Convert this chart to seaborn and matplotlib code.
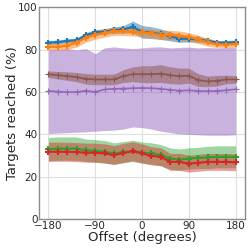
import numpy as np
import pandas as pd
import matplotlib
matplotlib.use("Agg")
import matplotlib.pyplot as plt
import seaborn as sns

offsets = list(range(-180, 181, 18))

blue = [83.3, 83.5, 84.1, 84.4, 86.8, 88.1, 88.5, 89.2, 89.5, 90.7, 88.4, 88.0, 87.3, 86.3, 85.2, 85.1, 84.8, 84.1, 83.3, 83.3, 83.5]
blue_err = [1.0, 1.0, 1.0, 1.0, 1.2, 1.3, 1.3, 1.5, 1.8, 2.8, 3.0, 2.8, 2.5, 2.2, 1.8, 1.5, 1.3, 1.2, 1.0, 1.0, 1.0]
orange = [81.3, 81.3, 81.9, 83.2, 85.7, 87.1, 87.9, 88.7, 88.7, 88.4, 88.1, 87.6, 86.9, 86.9, 86.6, 86.0, 84.8, 83.5, 82.5, 82.4, 82.5]
orange_err = [1.5, 1.5, 1.8, 2.0, 2.2, 2.2, 2.0, 2.0, 2.0, 2.0, 2.0, 2.0, 2.2, 2.2, 2.2, 2.0, 2.0, 1.8, 1.5, 1.5, 1.5]
brown = [68.4, 67.9, 67.5, 67.0, 66.2, 65.9, 65.9, 65.9, 67.5, 68.4, 68.4, 68.4, 68.7, 67.9, 67.5, 67.7, 65.6, 65.0, 65.3, 65.9, 65.9]
brown_err = [1.5, 1.8, 2.0, 2.2, 2.5, 2.5, 2.5, 2.5, 3.0, 3.5, 4.0, 4.0, 4.2, 4.0, 3.8, 3.5, 3.0, 2.5, 2.5, 2.0, 1.8]
purple = [60.5, 60.2, 59.9, 60.0, 60.6, 60.0, 61.2, 61.5, 61.6, 61.8, 61.9, 61.8, 61.5, 61.0, 60.6, 60.8, 60.5, 60.4, 60.5, 60.8, 61.3]
purple_lo = [40.4, 40.6, 40.8, 41.0, 41.2, 41.5, 41.8, 42.0, 42.5, 43.5, 43.2, 42.5, 41.5, 40.8, 40.2, 40.0, 39.8, 39.6, 39.6, 39.6, 39.8]
purple_hi = [80.0, 80.0, 80.5, 79.8, 80.5, 78.1, 80.8, 81.3, 80.8, 80.5, 80.8, 81.2, 81.3, 80.8, 81.0, 81.2, 80.8, 81.0, 80.8, 81.0, 81.0]
green = [33.0, 33.3, 33.3, 33.3, 32.5, 32.2, 31.8, 31.0, 31.6, 32.2, 31.4, 31.0, 30.2, 28.6, 28.1, 28.6, 28.9, 29.1, 29.4, 29.4, 29.4]
green_err = [5.5, 5.5, 5.5, 5.5, 5.3, 5.3, 5.3, 5.0, 5.0, 5.0, 5.0, 5.0, 5.0, 5.0, 5.0, 5.0, 5.0, 5.2, 5.2, 5.2, 5.2]
red = [31.8, 31.8, 31.8, 31.6, 31.4, 31.3, 31.0, 30.2, 31.2, 32.0, 31.0, 29.8, 29.4, 27.0, 27.0, 26.2, 26.6, 27.0, 27.0, 27.0, 26.8]
red_err = [4.5, 4.5, 4.5, 4.5, 4.5, 4.5, 4.5, 4.5, 4.5, 4.5, 4.5, 4.3, 4.2, 4.0, 4.0, 4.0, 4.0, 4.0, 4.0, 4.0, 4.0]

xlabel = "Offset (degrees)"
ylabel = "Targets reached (%)"
xticks = [-180, -90, 0, 90, 180]
yticks = [0, 20, 40, 60, 80, 100]

sns.set_style("whitegrid")
pal = sns.color_palette("tab10")

fig = plt.figure(figsize=(2.49, 2.49), dpi=100)
ax = fig.add_axes([0.157, 0.12, 0.827, 0.851])

x = np.array(offsets)
series = [
    ("purple", purple, np.array(purple_lo), np.array(purple_hi), pal[4]),
    ("brown", brown, np.array(brown) - np.array(brown_err), np.array(brown) + np.array(brown_err), pal[5]),
    ("green", green, np.array(green) - np.array(green_err), np.array(green) + np.array(green_err), pal[2]),
    ("red", red, np.array(red) - np.array(red_err), np.array(red) + np.array(red_err), pal[3]),
    ("blue", blue, np.array(blue) - np.array(blue_err), np.array(blue) + np.array(blue_err), pal[0]),
    ("orange", orange, np.array(orange) - np.array(orange_err), np.array(orange) + np.array(orange_err), pal[1]),
]
alphas = {"purple": 0.5, "brown": 0.5, "green": 0.45, "red": 0.45, "blue": 0.5, "orange": 0.5}
for name, y, lo, hi, c in series:
    ax.fill_between(x, lo, hi, color=c, alpha=alphas[name], lw=0)
for name, y, lo, hi, c in series:
    df = pd.DataFrame({"x": offsets, "y": y})
    big = name not in ("purple", "brown")
    sns.lineplot(data=df, x="x", y="y", ax=ax, color=c, marker="+", markersize=5 if big else 4,
                 markeredgewidth=1.5 if big else 0.8, markeredgecolor=c, lw=1.5 if big else 1.2)

ax.set_xlim(-198, 198)
ax.set_ylim(0, 100)
ax.set_xticks(xticks)
ax.set_yticks(yticks)
ax.set_xticklabels(["\u2212180", "\u221290", "0", "90", "180"])
ax.set_xlabel(xlabel, fontsize=9.5, labelpad=0)
ax.set_ylabel(ylabel, fontsize=9.5, labelpad=-0.5)
ax.tick_params(axis="both", labelsize=7.5, pad=1, length=0)
for s in ax.spines.values():
    s.set_color("0.55")
    s.set_linewidth(1.0)
ax.grid(color="0.87", lw=0.8)

fig.savefig("out.png", dpi=100)
